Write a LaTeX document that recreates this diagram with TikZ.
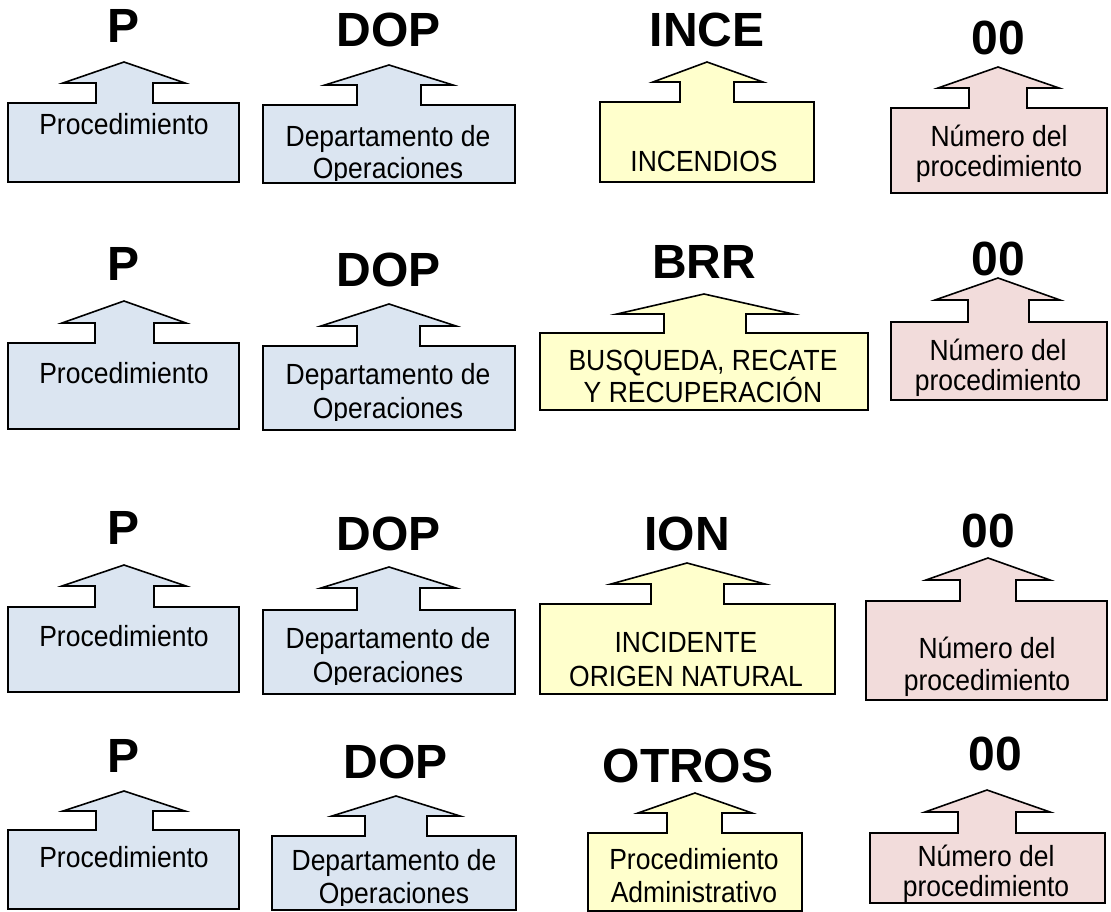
\documentclass[tikz,border=0pt]{standalone}
\usepackage{graphicx}
\usepackage{fontspec}
\setmainfont{Liberation Sans}
\definecolor{cblue}{HTML}{DBE5F1}
\definecolor{cyel}{HTML}{FFFFCC}
\definecolor{cpink}{HTML}{F2DCDB}
\newcommand\stx[1]{\scalebox{1}[1.1]{#1}}
\tikzset{
  shp/.style={draw=black, line width=1.6pt, line join=miter},
  bshape/.style={shp, fill=cblue},
  yshape/.style={shp, fill=cyel},
  pshape/.style={shp, fill=cpink},
  ttl/.style={font=\bfseries\fontsize{48}{48}\selectfont, inner sep=0pt, anchor=base},
  lbl/.style={font=\fontsize{26.5}{30}\selectfont, inner sep=0pt, anchor=base}
}
\begin{document}
\begin{tikzpicture}[x=1pt,y=-1pt]
\useasboundingbox (0,0) rectangle (1111,912);
% ---------- Row 1 ----------
\draw[bshape] (8,103) -- (96,103) -- (96,83) -- (63,83) -- (124,62) -- (185,83) -- (153,83) -- (153,103) -- (239,103) -- (239,182) -- (8,182) -- cycle;
\node[ttl] (t11) at (124,43) {P};
\node[lbl] (a11) at (124,135) {\stx{Procedimiento}};
\draw[bshape] (263,105) -- (357,105) -- (357,85) -- (325,85) -- (389,65) -- (453,85) -- (421,85) -- (421,105) -- (515,105) -- (515,183) -- (263,183) -- cycle;
\node[ttl] (t12) at (389,47) {DOP};
\node[lbl] (a12) at (388,147) {\stx{Departamento de}};
\begin{scope}\clip (263,105) rectangle (515,181);
\node[lbl] (b12) at (388,179) {\stx{Operaciones}};
\end{scope}
\draw[yshape] (600,102) -- (680,102) -- (680,82) -- (653,82) -- (707,62) -- (763,82) -- (734,82) -- (734,102) -- (814,102) -- (814,182) -- (600,182) -- cycle;
\node[ttl] (t13) at (707,47) {INCE};
\node[lbl] (a13) at (704,172) {\stx{INCENDIOS}};
\draw[pshape] (891,108) -- (969,108) -- (969,88) -- (938,88) -- (998,67) -- (1059,88) -- (1027,88) -- (1027,108) -- (1107,108) -- (1107,193) -- (891,193) -- cycle;
\node[ttl] (t14) at (998,55) {00};
\node[lbl] (a14) at (999,147) {\stx{Número del}};
\node[lbl] (b14) at (999,177) {\stx{procedimiento}};
% ---------- Row 2 ----------
\draw[bshape] (8,343) -- (95,343) -- (95,323) -- (62,323) -- (124,301) -- (186,323) -- (154,323) -- (154,343) -- (239,343) -- (239,429) -- (8,429) -- cycle;
\node[ttl] (t21) at (124,280) {P};
\node[lbl] (a21) at (124,383) {\stx{Procedimiento}};
\draw[bshape] (263,346) -- (357,346) -- (357,326) -- (321,326) -- (389,304) -- (456,326) -- (420,326) -- (420,346) -- (515,346) -- (515,430) -- (263,430) -- cycle;
\node[ttl] (t22) at (389,286) {DOP};
\node[lbl] (a22) at (388,384) {\stx{Departamento de}};
\begin{scope}\clip (263,346) rectangle (515,420);
\node[lbl] (b22) at (388,418) {\stx{Operaciones}};
\end{scope}
\draw[yshape] (540,333) -- (664,333) -- (664,314) -- (617,314) -- (704,294) -- (793,314) -- (746,314) -- (746,333) -- (868,333) -- (868,410) -- (540,410) -- cycle;
\node[ttl] (t23) at (704,278) {BRR};
\node[lbl] (a23) at (703,370) {\stx{BUSQUEDA, RECATE}};
\node[lbl] (b23) at (703,402) {\stx{Y RECUPERACIÓN}};
\draw[pshape] (891,322) -- (968,322) -- (968,300) -- (935,300) -- (998,278) -- (1060,300) -- (1029,300) -- (1029,322) -- (1107,322) -- (1107,400) -- (891,400) -- cycle;
\node[ttl] (t24) at (998,275) {00};
\node[lbl] (a24) at (998,360) {\stx{Número del}};
\node[lbl] (b24) at (998,390) {\stx{procedimiento}};
% ---------- Row 3 ----------
\draw[bshape] (8,607) -- (95,607) -- (95,586) -- (62,586) -- (124,565) -- (186,586) -- (154,586) -- (154,607) -- (239,607) -- (239,692) -- (8,692) -- cycle;
\node[ttl] (t31) at (124,544) {P};
\node[lbl] (a31) at (124,646) {\stx{Procedimiento}};
\draw[bshape] (263,610) -- (357,610) -- (357,588) -- (321,588) -- (389,567) -- (456,588) -- (420,588) -- (420,610) -- (515,610) -- (515,694) -- (263,694) -- cycle;
\node[ttl] (t32) at (389,550) {DOP};
\node[lbl] (a32) at (388,648) {\stx{Departamento de}};
\begin{scope}\clip (263,610) rectangle (515,684);
\node[lbl] (b32) at (388,682) {\stx{Operaciones}};
\end{scope}
\draw[yshape] (540,604) -- (651,604) -- (651,584) -- (611,584) -- (687,563) -- (765,584) -- (724,584) -- (724,604) -- (835,604) -- (835,694) -- (540,694) -- cycle;
\node[ttl] (t33) at (687,550) {ION};
\node[lbl] (a33) at (686,652) {\stx{INCIDENTE}};
\node[lbl] (b33) at (686,686) {\stx{ORIGEN NATURAL}};
\draw[pshape] (866,601) -- (960,601) -- (960,580) -- (926,580) -- (988,558) -- (1050,580) -- (1016,580) -- (1016,601) -- (1107,601) -- (1107,700) -- (866,700) -- cycle;
\node[ttl] (t34) at (988,547) {00};
\node[lbl] (a34) at (987,658) {\stx{Número del}};
\node[lbl] (b34) at (987,690) {\stx{procedimiento}};
% ---------- Row 4 ----------
\draw[bshape] (8,830) -- (96,830) -- (96,811) -- (63,811) -- (124,791) -- (185,811) -- (153,811) -- (153,830) -- (239,830) -- (239,909) -- (8,909) -- cycle;
\node[ttl] (t41) at (124,772) {P};
\node[lbl] (a41) at (124,867) {\stx{Procedimiento}};
\draw[bshape] (272,836) -- (365,836) -- (365,816) -- (332,816) -- (396,796) -- (460,816) -- (427,816) -- (427,836) -- (516,836) -- (516,910) -- (272,910) -- cycle;
\node[ttl] (t42) at (396,778) {DOP};
\node[lbl] (a42) at (394,870) {\stx{Departamento de}};
\begin{scope}\clip (272,836) rectangle (516,905);
\node[lbl] (b42) at (394,903) {\stx{Operaciones}};
\end{scope}
\draw[yshape] (588,833) -- (667,833) -- (667,813) -- (638,813) -- (695,793) -- (752,813) -- (722,813) -- (722,833) -- (802,833) -- (802,911) -- (588,911) -- cycle;
\node[ttl] (t43) at (688,782) {OTROS};
\node[lbl] (a43) at (694,869) {\stx{Procedimiento}};
\node[lbl] (b43) at (694,902) {\stx{Administrativo}};
\draw[pshape] (870,833) -- (958,833) -- (958,812) -- (925,812) -- (987,790) -- (1050,812) -- (1016,812) -- (1016,833) -- (1105,833) -- (1105,903) -- (870,903) -- cycle;
\node[ttl] (t44) at (995,770) {00};
\node[lbl] (a44) at (986,866) {\stx{Número del}};
\node[lbl] (b44) at (986,896) {\stx{procedimiento}};
\end{tikzpicture}
\end{document}
